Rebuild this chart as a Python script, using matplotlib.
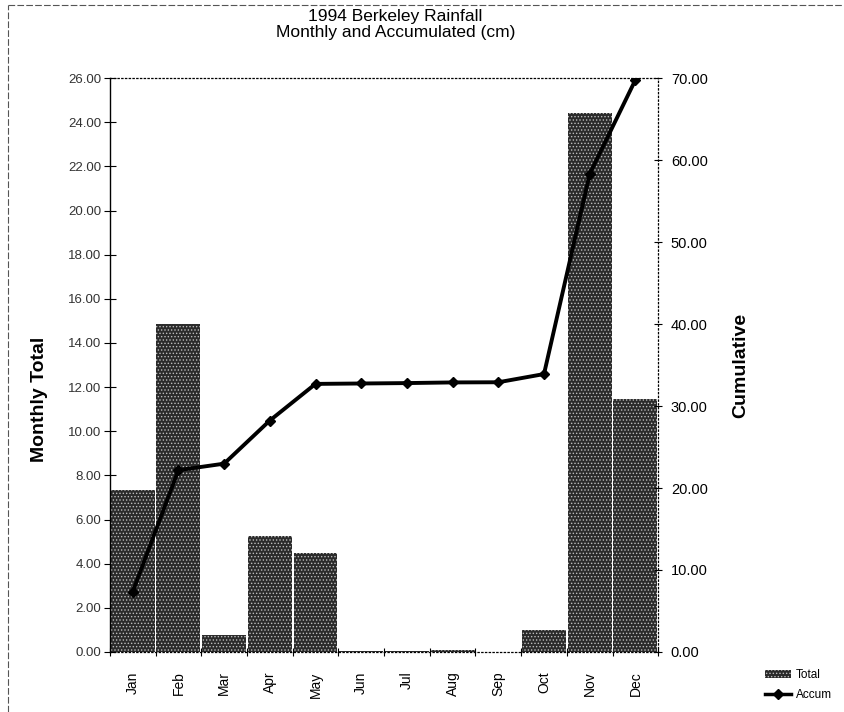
import matplotlib
matplotlib.use("Agg")
import matplotlib.pyplot as plt
import numpy as np
from matplotlib.lines import Line2D
from matplotlib.patches import Patch

plt.rcParams['font.family'] = ['Liberation Sans', 'DejaVu Sans']
plt.rcParams['hatch.linewidth'] = 0.6

# data
months = ['Jan', 'Feb', 'Mar', 'Apr', 'May', 'Jun', 'Jul', 'Aug', 'Sep', 'Oct', 'Nov', 'Dec']
monthly_total = [7.33, 14.85, 0.79, 5.26, 4.47, 0.05, 0.05, 0.08, 0.02, 1.00, 24.42, 11.46]
accum = [7.33, 22.18, 22.97, 28.23, 32.70, 32.75, 32.80, 32.88, 32.90, 33.90, 58.32, 69.78]
left_ticks = [0, 2, 4, 6, 8, 10, 12, 14, 16, 18, 20, 22, 24, 26]
right_ticks = [0, 10, 20, 30, 40, 50, 60, 70]

fig = plt.figure(figsize=(8.45, 7.12), dpi=100)
ax = fig.add_axes([0.130, 0.0843, 0.649, 0.806])
x = np.arange(len(months))

ax.bar(x, monthly_total, width=0.96, facecolor='#2b2b2b', edgecolor='#bdbdbd',
       hatch='.....', linewidth=0, zorder=2)
ax.set_xlim(-0.5, 11.5)
ax.set_ylim(0, 26)
ax.set_yticks(left_ticks)
ax.set_yticklabels([f"{v:.2f}" for v in left_ticks], fontsize=9.5, color='#333333')
ax.set_xticks(x)
ax.set_xticklabels(months, rotation=90, fontsize=10)
ax.set_xticks(np.arange(-0.5, 12, 1), minor=True)
ax.tick_params(axis='x', which='major', length=0, pad=14)
ax.tick_params(axis='x', which='minor', direction='inout', length=6, width=0.8)
ax.tick_params(axis='y', direction='inout', length=8, width=0.8, pad=2)
ax.set_ylabel('Monthly Total', fontsize=14, fontweight='bold')
ax.yaxis.set_label_coords(-0.112, 0.44)

for side in ['top', 'right', 'bottom']:
    ax.spines[side].set_linestyle((0, (1, 2)))
    ax.spines[side].set_linewidth(0.9)
ax.spines['left'].set_linewidth(1.0)

ax2 = ax.twinx()
ax2.plot(x, accum, color='black', linewidth=2.8, marker='D', markersize=5, zorder=3)
ax2.set_ylim(0, 70)
ax2.set_yticks(right_ticks)
ax2.set_yticklabels([f"{v:.2f}" for v in right_ticks], fontsize=10.5)
ax2.tick_params(axis='y', direction='inout', length=6, width=0.8, pad=6)
ax2.set_ylabel('Cumulative', fontsize=14, fontweight='bold', labelpad=18)
for side in ['top', 'right', 'bottom', 'left']:
    ax2.spines[side].set_visible(False)

fig.text(0.468, 0.988, '1994 Berkeley Rainfall\nMonthly and Accumulated (cm)',
         ha='center', va='top', fontsize=12.5, linespacing=1.15)

handles = [Patch(facecolor='#2b2b2b', edgecolor='#bdbdbd', hatch='.....', linewidth=0),
           Line2D([0], [0], color='black', linewidth=2.5, marker='D', markersize=5)]
fig.legend(handles, ['Total', 'Accum'], loc='lower left', bbox_to_anchor=(0.893, 0.0),
           frameon=False, fontsize=8.5, handlelength=2.2, handletextpad=0.4, labelspacing=0.7)

# scanned page border
fig.add_artist(Line2D([0.009, 0.009], [0.0, 0.993], color='#555555', linewidth=0.8,
                      linestyle=(0, (6, 2)), transform=fig.transFigure))
fig.add_artist(Line2D([0.009, 1.0], [0.993, 0.993], color='#555555', linewidth=0.8,
                      linestyle=(0, (6, 2)), transform=fig.transFigure))

fig.savefig('out.png', dpi=100)
